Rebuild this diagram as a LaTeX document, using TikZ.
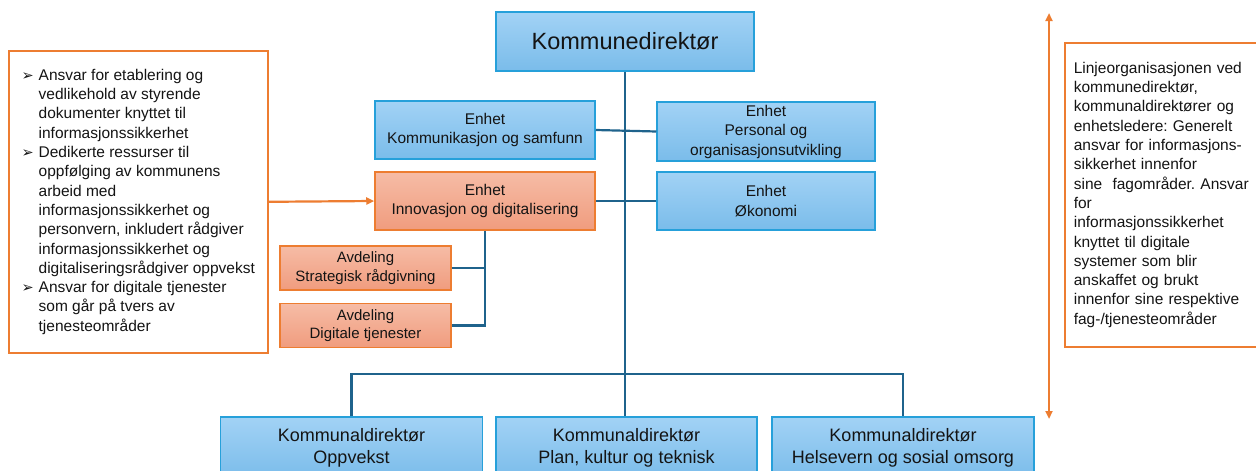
\documentclass[tikz,border=0pt]{standalone}
\usepackage{fontspec}
\setmainfont{Liberation Sans}
\newfontfamily\symfont{DejaVu Sans}
\usetikzlibrary{arrows.meta, positioning}
\definecolor{unittop}{RGB}{162,210,245}
\definecolor{unitbottom}{RGB}{122,188,234}
\definecolor{unitborder}{RGB}{38,160,218}
\definecolor{depttop}{RGB}{246,188,166}
\definecolor{deptbottom}{RGB}{240,156,126}
\definecolor{accent}{RGB}{237,125,49}
\definecolor{linkblue}{RGB}{31,99,140}
\definecolor{inktext}{RGB}{20,20,20}
\newcommand{\arrowbullet}{\makebox[17pt][l]{\symfont\fontsize{14.5}{14.5}\selectfont ➢}}
\newcommand{\bulletgap}{\hspace*{17pt}}
\frenchspacing
\tikzset{
    unitbox/.style={rectangle, draw=unitborder, line width=1.5pt, top color=unittop, bottom color=unitbottom, text=inktext, align=center, font=\fontsize{15.5}{19.5}\selectfont, inner sep=2pt},
    deptbox/.style={unitbox, draw=accent, top color=depttop, bottom color=deptbottom},
    notebox/.style={rectangle, draw=accent, line width=1.6pt, fill=white, text=inktext, font=\fontsize{15.5}{19.3}\selectfont, align=left},
    link/.style={linkblue, line width=2.2pt},
    accentarrow/.style={-{Triangle[length=8pt, width=7pt]}, accent, line width=2.2pt},
}

\begin{document}
\begin{tikzpicture}[
    x=1pt, y=-1pt,
    node distance=12pt,
    chiefbox/.style={unitbox, minimum width=258pt, minimum height=59pt, font=\fontsize{23.5}{27}\selectfont},
    enhet/.style={unitbox, minimum width=#1, minimum height=58pt},
    avdeling/.style={deptbox, minimum width=171pt, minimum height=44pt, font=\fontsize{15}{18.5}\selectfont},
    director/.style={unitbox, minimum width=262pt, minimum height=62pt, font=\fontsize{18}{22}\selectfont}
]
\clip (0,0) rectangle (1256,471);

% Top of the line organisation
\node[chiefbox] (chief) at (625,41.5) {Kommunedirektør};

% Staff units
\node[enhet=220pt] (comm) at (485,130) {Enhet\\Kommunikasjon og samfunn};
\node[enhet=220pt, deptbox] (innov) at (485,201) {Enhet\\Innovasjon og digitalisering};
\node[enhet=218pt, minimum height=59pt] (staff) at (766,131.5) {Enhet\\Personal og\\organisasjonsutvikling};
\node[enhet=218pt] (econ) at (766,201) {Enhet\\Økonomi};

% Departments under innovation
\node[avdeling] (strat) at (365.5,268) {Avdeling\\Strategisk rådgivning};
\node[avdeling, below=12pt of strat] (digi) {Avdeling\\Digitale tjenester};

% Directors
\node[director] (oppv) at (351.5,448) {Kommunaldirektør\\Oppvekst};
\node[director, minimum width=261pt] (plan) at (626.5,448) {Kommunaldirektør\\Plan, kultur og teknisk};
\node[director] (helse) at (903,448) {Kommunaldirektør\\Helsevern og sosial omsorg};

% Left note
\node[notebox, anchor=north west, minimum width=259pt, minimum height=302pt] (tasks) at (8,50) {
    \arrowbullet Ansvar for etablering og\\
    \bulletgap vedlikehold av styrende\\
    \bulletgap dokumenter knyttet til\\
    \bulletgap informasjonssikkerhet\\
    \arrowbullet Dedikerte ressurser til\\
    \bulletgap oppfølging av kommunens\\
    \bulletgap arbeid med\\
    \bulletgap informasjonssikkerhet og\\
    \bulletgap personvern, inkludert rådgiver\\
    \bulletgap informasjonssikkerhet og\\
    \bulletgap digitaliseringsrådgiver oppvekst\\
    \arrowbullet Ansvar for digitale tjenester\\
    \bulletgap som går på tvers av\\
    \bulletgap tjenesteområder
};

% Right note
\node[notebox, anchor=north west, text width=185pt, inner xsep=9pt, minimum height=304pt] (linenote) at (1064,42) {
    Linjeorganisasjonen ved\\
    kommunedirektør,\\
    kommunaldirektører og\\
    enhetsledere: Generelt\\
    ansvar for informasjons-\\
    sikkerhet innenfor\\
    sine\ \ fagområder. Ansvar\\
    for\\
    informasjonssikkerhet\\
    knyttet til digitale\\
    systemer som blir\\
    anskaffet og brukt\\
    innenfor sine respektive\\
    fag-/tjenesteområder
};

% Connectors
\coordinate (bus) at ([yshift=42pt]plan.north);
\draw[link] (chief.south) -- (chief.south |- plan.north);
\draw[link] (oppv.north) |- (bus) -| (helse.north);
\draw[link] (comm.east) -- (staff.west);
\draw[link] (innov.east) -- (econ.west);
\draw[link] (innov.south) |- (digi.east);
\draw[link] (strat.east) -- (strat.east -| innov.south);

% Orange arrows
\draw[accentarrow] (tasks.east) -- (innov.west);
\coordinate (spantop) at (1049,13);
\coordinate (spanbottom) at (1049,419);
\draw[accentarrow, {Triangle[length=8pt, width=7pt]}-{Triangle[length=8pt, width=7pt]}] (spantop) -- (spanbottom);

\end{tikzpicture}
\end{document}
